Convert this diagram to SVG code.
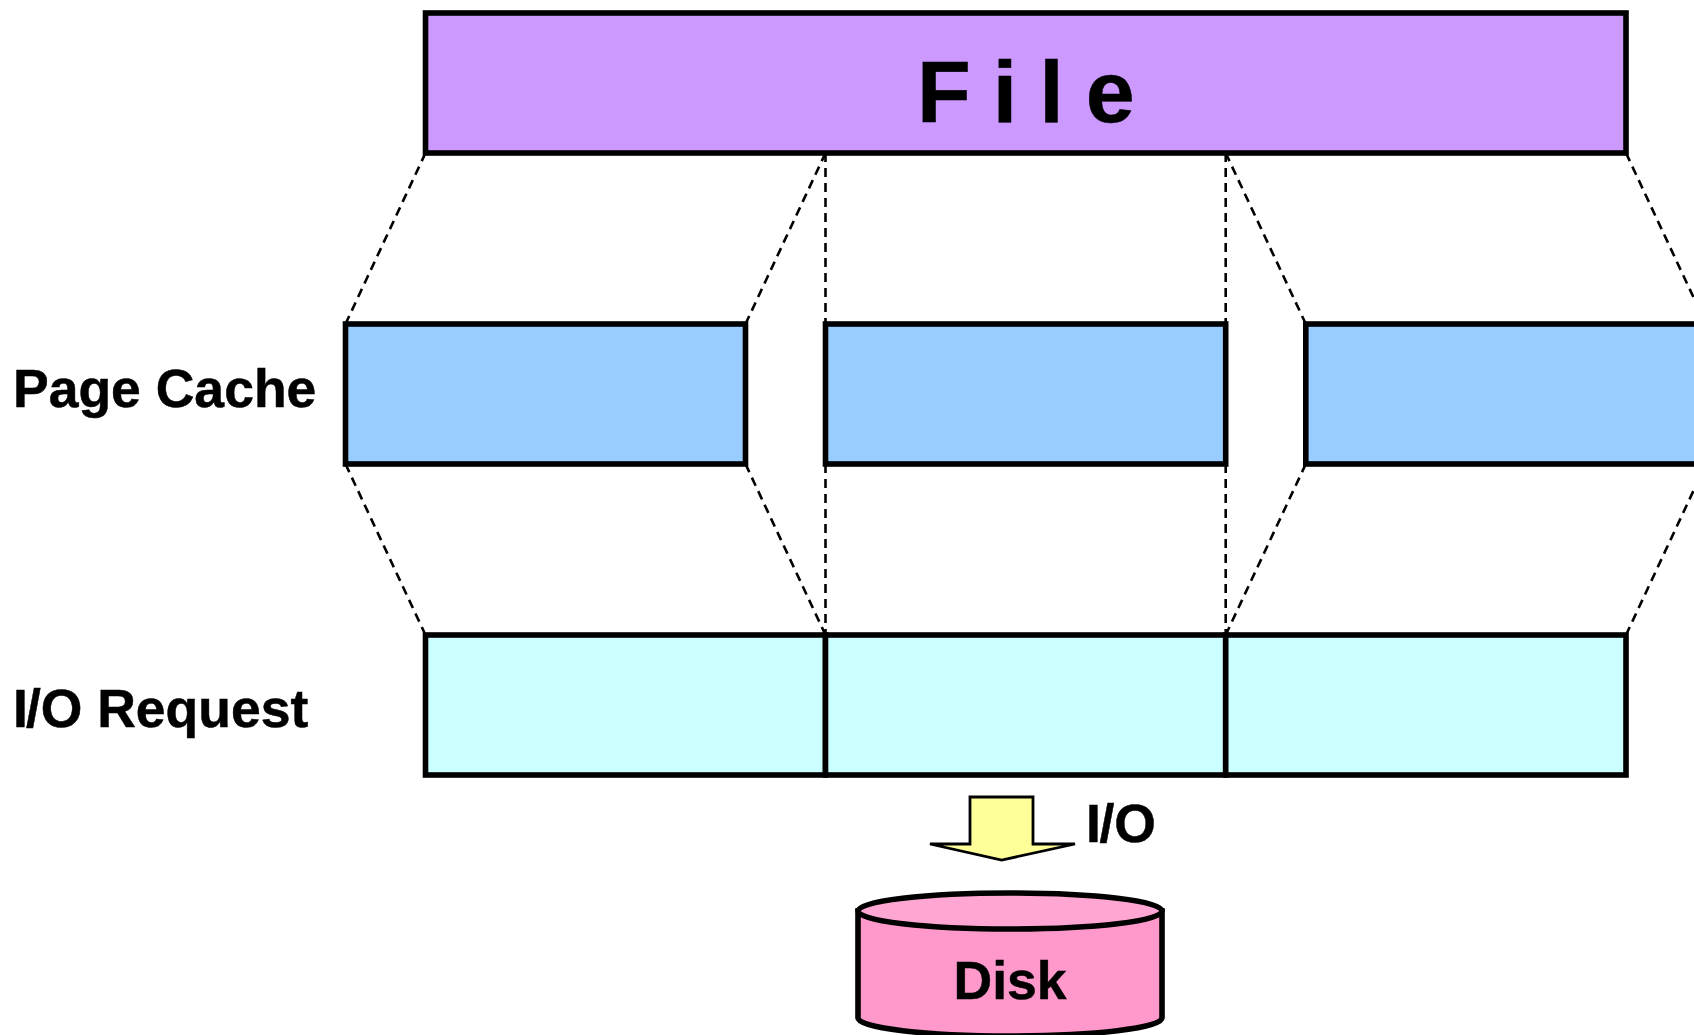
<svg xmlns="http://www.w3.org/2000/svg" width="1694" height="1035" viewBox="0 0 1694 1035">
<style>
.box{stroke:#000;stroke-width:5.6}
.dash{fill:none;stroke:#000;stroke-width:2.6;stroke-dasharray:9 6}
text{font-family:"Liberation Sans",Arial,sans-serif;font-weight:700;fill:#000;stroke:#000;stroke-width:.5}
.lbl{font-size:53.5px}
</style>
<rect width="1694" height="1035" fill="#fff"/>
<g id="connectors">
<path class="dash" d="M425.5 153L345.5 324"/>
<path class="dash" d="M825.5 153L745.5 324"/>
<path class="dash" d="M825.5 153V324"/>
<path class="dash" d="M1225.7 153V324"/>
<path class="dash" d="M1225.7 153L1305.8 324"/>
<path class="dash" d="M1626 153L1706 324"/>
<path class="dash" d="M345.5 464L425.5 635"/>
<path class="dash" d="M745.5 464L825.5 635"/>
<path class="dash" d="M825.5 464V635"/>
<path class="dash" d="M1225.7 464V635"/>
<path class="dash" d="M1305.8 464L1225.7 635"/>
<path class="dash" d="M1706 464L1626 635"/>
</g>
<g id="file"><rect class="box" x="425.5" y="13" width="1200.5" height="140" fill="#CC99FF"/>
<text x="917" y="121.7" font-size="88" letter-spacing="22">File</text></g>
<g id="page-cache-label"><text class="lbl" x="13" y="406.7">Page Cache</text></g>
<g id="page-1"><rect class="box" x="345.5" y="324" width="400" height="140" fill="#99CCFF"/></g>
<g id="page-2"><rect class="box" x="825.5" y="324" width="400.2" height="140" fill="#99CCFF"/></g>
<g id="page-3"><rect class="box" x="1305.8" y="324" width="400.2" height="140" fill="#99CCFF"/></g>
<g id="io-request-label"><text class="lbl" x="13" y="727">I<tspan dx="-2">/O Request</tspan></text></g>
<g id="io-1"><rect class="box" x="425.5" y="635" width="400" height="140" fill="#CCFFFF"/></g>
<g id="io-2"><rect class="box" x="825.5" y="635" width="400.2" height="140" fill="#CCFFFF"/></g>
<g id="io-3"><rect class="box" x="1225.7" y="635" width="400.3" height="140" fill="#CCFFFF"/></g>
<g id="io-arrow"><path d="M970 797H1033V844H1075L1001.7 860L930 844H970Z" fill="#FFFF99" stroke="#000" stroke-width="2.8"/></g>
<g id="io-label"><text class="lbl" x="1086" y="842">I<tspan dx="-1.5">/O</tspan></text></g>
<g id="disk">
<path class="box" d="M858 911V1018C858 1028 926 1036 1010 1036S1162 1028 1162 1018V911Z" fill="#FF99CC"/>
<ellipse class="box" cx="1010" cy="911" rx="152" ry="18" fill="#FFA6D2"/>
<text class="lbl" x="953.5" y="998.5">Disk</text>
</g>
</svg>
